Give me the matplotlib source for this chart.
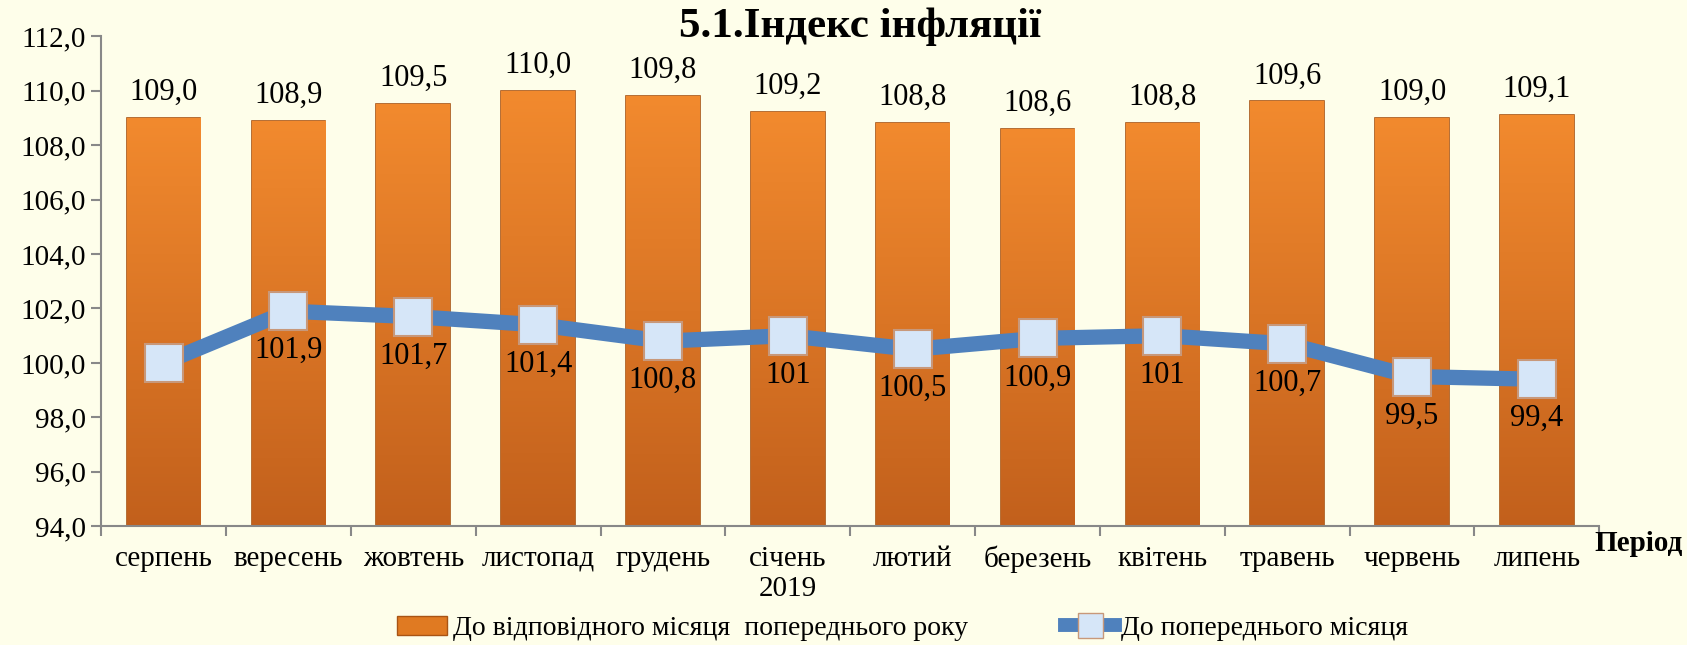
import matplotlib.pyplot as plt
import numpy as np
from matplotlib.lines import Line2D
from matplotlib.patches import Patch
from matplotlib.colors import LinearSegmentedColormap

plt.rcParams['font.family'] = ['Liberation Serif', 'DejaVu Serif']

months = ['серпень', 'вересень', 'жовтень', 'листопад', 'грудень', 'січень\n2019',
          'лютий', 'березень', 'квітень', 'травень', 'червень', 'липень']
year_idx = [109.0, 108.9, 109.5, 110.0, 109.8, 109.2, 108.8, 108.6, 108.8, 109.6, 109.0, 109.1]
month_idx = [100.0, 101.9, 101.7, 101.4, 100.8, 101.0, 100.5, 100.9, 101.0, 100.7, 99.5, 99.4]
month_lbl = ['', '101,9', '101,7', '101,4', '100,8', '101', '100,5', '100,9', '101', '100,7', '99,5', '99,4']

bg = '#FEFEEA'
fig = plt.figure(figsize=(16.87, 6.45), dpi=100, facecolor=bg)
ax = fig.add_axes([0.060, 0.184, 0.888, 0.760])
ax.set_facecolor(bg)

x = np.arange(len(months))
bars = ax.bar(x, [v - 94 for v in year_idx], bottom=94, width=0.59, color='#E67E22',
              edgecolor='#A85414', linewidth=1.2, zorder=2)
# vertical gradient inside each bar
cmap = LinearSegmentedColormap.from_list('org', ['#C2601C', '#F28A2E'])
grad = np.linspace(0, 1, 256).reshape(-1, 1)
for b in bars:
    im = ax.imshow(grad, cmap=cmap, aspect='auto', origin='lower', zorder=2.1,
                   extent=[b.get_x(), b.get_x() + b.get_width(), 94, b.get_y() + b.get_height()])
    im.set_clip_path(b)
for xi, v in zip(x, year_idx):
    ax.annotate(f'{v:.1f}'.replace('.', ','), (xi, v), xytext=(0, 8), textcoords='offset points',
                ha='center', va='bottom', fontsize=22)

ax.plot(x, month_idx, color='#4F81BD', linewidth=11, solid_capstyle='round', zorder=3,
        marker='s', markersize=27, markerfacecolor='#D6E6F8', markeredgecolor='#C8987A',
        markeredgewidth=1.5)
for xi, v, t in zip(x, month_idx, month_lbl):
    ax.annotate(t, (xi, v), xytext=(0, -18), textcoords='offset points',
                ha='center', va='top', fontsize=22, zorder=4)

ax.set_xlim(-0.5, len(months) - 0.5)
ax.set_ylim(94, 112)
ax.set_yticks(np.arange(94, 112.1, 2))
ax.set_yticklabels([f'{t:.1f}'.replace('.', ',') for t in np.arange(94, 112.1, 2)], fontsize=21)
ax.set_xticks(x)
ax.set_xticklabels(months, fontsize=21)
ax.set_xticks(np.arange(-0.5, len(months)), minor=True)
ax.tick_params(axis='x', which='major', length=0, pad=14)
ax.tick_params(axis='x', which='minor', length=7, color='#888888', width=1.5)
ax.tick_params(axis='y', length=7, color='#888888', width=1.5, pad=4)
for s in ['top', 'right']:
    ax.spines[s].set_visible(False)
for s in ['left', 'bottom']:
    ax.spines[s].set_color('#888888')
    ax.spines[s].set_linewidth(1.5)

fig.text(0.51, 0.958, '5.1.Індекс інфляції', ha='center', va='center', fontsize=31, fontweight='bold')
fig.text(0.945, 0.157, 'Період', ha='left', va='center', fontsize=21, fontweight='bold')

handles = [Patch(facecolor='#E07A22', edgecolor='#A85414'),
           Line2D([], [], color='#4F81BD', linewidth=10, marker='s', markersize=18,
                  markerfacecolor='#D6E6F8', markeredgecolor='#C8987A')]
fig.legend(handles, ['До відповідного місяця  попереднього року', 'До попереднього місяця'],
           loc='center', bbox_to_anchor=(0.535, 0.026), ncol=2, frameon=False, fontsize=20,
           handlelength=1.8, handletextpad=0.2, columnspacing=3.5)

fig.savefig('out.png', dpi=100, facecolor=bg)
